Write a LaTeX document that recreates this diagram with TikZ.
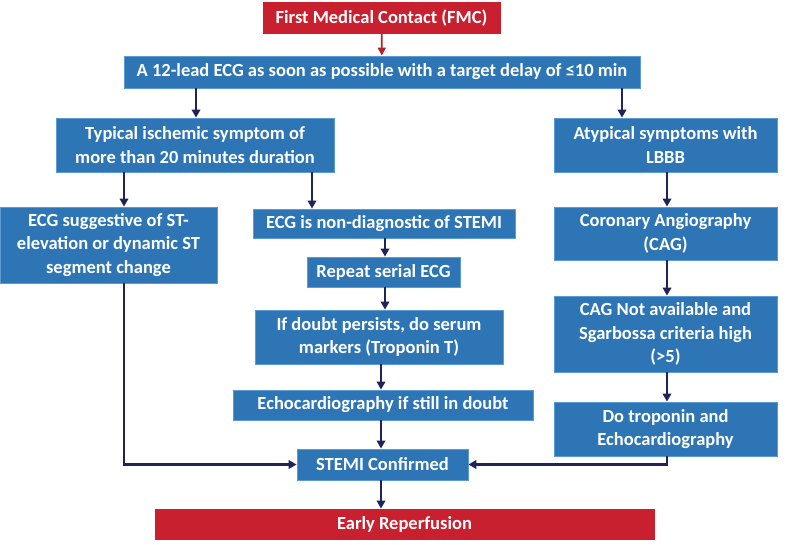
\documentclass[tikz,border=0pt]{standalone}
\usepackage{fontspec}
\setmainfont{Carlito}
\usetikzlibrary{arrows.meta,calc}
\definecolor{boxblue}{HTML}{2E75B6}
\definecolor{boxedge}{HTML}{5B9BD5}
\definecolor{boxred}{HTML}{C8202E}
\definecolor{arrnavy}{HTML}{1F2357}
\definecolor{arrred}{HTML}{B2222A}
\begin{document}
\begin{tikzpicture}[x=1pt,y=-1pt,
  bbox/.style={fill=boxblue,draw=boxedge,line width=0.8pt,text=white,align=center,
    font=\fontsize{18.5}{23.5}\selectfont\bfseries,inner sep=0pt,minimum width=#1},
  rbox/.style={bbox=#1,fill=boxred,draw=boxred},
  arr/.style={draw=arrnavy,line width=2.4pt,-{Triangle[length=8pt,width=8.5pt]}},
  rarr/.style={draw=arrred,line width=1.8pt,-{Triangle[length=8pt,width=8pt]}}]
\useasboundingbox (0,0) rectangle (788,545);
\node[rbox=237pt,minimum height=31pt] (fmc) at (381.5,18) {First Medical Contact (FMC)};
\node[bbox=516pt,minimum height=32pt] (ecg) at (382,72) {A 12-lead ECG as soon as possible with a target delay of ≤10 min};
\node[bbox=278pt,minimum height=54pt] (typ) at (195,145) {Typical ischemic symptom of\\more than 20 minutes duration};
\node[bbox=223pt,minimum height=54pt] (atyp) at (665.5,145) {Atypical symptoms with\\LBBB};
\node[bbox=217pt,minimum height=76pt] (sugg) at (108.5,245) {ECG suggestive of ST-\\elevation or dynamic ST\\segment change};
\node[bbox=262pt,minimum height=29pt] (nond) at (384,223.5) {ECG is non-diagnostic of STEMI};
\node[bbox=153pt,minimum height=30pt] (rep) at (383.5,272) {Repeat serial ECG};
\node[bbox=248pt,minimum height=54pt] (doubt) at (379,337) {If doubt persists, do serum\\markers (Troponin T)};
\node[bbox=300pt,minimum height=30pt] (echo) at (383,405) {Echocardiography if still in doubt};
\node[bbox=171pt,minimum height=31pt] (stemi) at (382.5,464.5) {STEMI Confirmed};
\node[rbox=499pt,minimum height=30pt] (early) at (404.5,524) {Early Reperfusion};
\node[bbox=223pt,minimum height=53pt] (cag) at (665.5,233.5) {Coronary Angiography\\(CAG)};
\node[bbox=223pt,minimum height=76pt] (cagna) at (665.5,334) {CAG Not available and\\Sgarbossa criteria high\\(>5)};
\node[bbox=223pt,minimum height=54pt] (trop) at (665.5,429) {Do troponin and\\Echocardiography};
\coordinate (xa) at (196,0);
\coordinate (xb) at (622,0);
\coordinate (xc) at (124,0);
\coordinate (xd) at (312,0);
\coordinate (xe) at (385,0);
\coordinate (xf) at (381,0);
\coordinate (xg) at (667,0);
\draw[rarr] (fmc) -- (ecg);
\draw[arr] (ecg.south -| xa) -- (typ.north -| xa);
\draw[arr] (ecg.south -| xb) -- (atyp.north -| xb);
\draw[arr] (typ.south -| xc) -- (sugg.north -| xc);
\draw[arr] (typ.south -| xd) -- (nond.north -| xd);
\draw[arr] (nond.south -| xe) -- (rep.north -| xe);
\draw[arr] (rep.south -| xe) -- (doubt.north -| xe);
\draw[arr] (doubt.south -| xf) -- (echo.north -| xf);
\draw[arr] (echo.south -| xf) -- (stemi.north -| xf);
\draw[arr] (stemi.south -| xf) -- (early.north -| xf);
\draw[arr] (atyp.south -| xg) -- (cag.north -| xg);
\draw[arr] (cag.south -| xg) -- (cagna.north -| xg);
\draw[arr] (cagna.south -| xg) -- (trop.north -| xg);
\draw[arr] (sugg.south -| xc) |- (stemi.west);
\draw[arr] (trop.south -| xg) |- (stemi.east);
\end{tikzpicture}
\end{document}
